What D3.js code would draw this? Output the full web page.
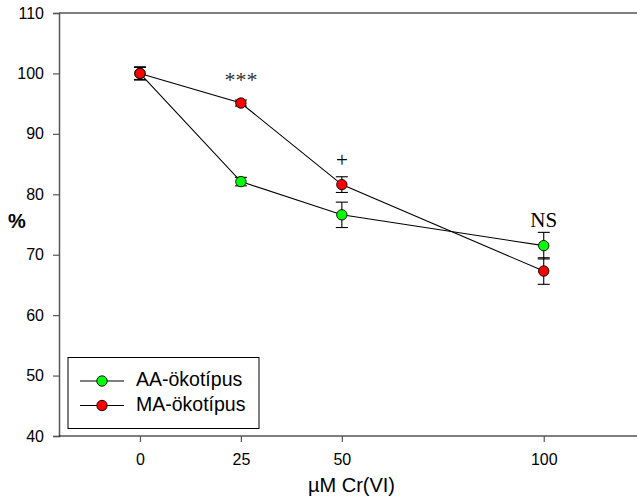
<!DOCTYPE html>
<html>
<head>
<meta charset="utf-8">
<script src="https://cdn.jsdelivr.net/npm/d3@7"></script>
<style>
  html, body { margin: 0; padding: 0; background: #fff; }
  svg { display: block; }
</style>
</head>
<body>
<svg id="chart" width="637" height="499"></svg>
<script>
// Cr(VI) concentrations (µM)
const doses = [0, 25, 50, 100];

// Relative values (%) and standard errors per ecotype
const aaValues = [100, 82.1, 76.6, 71.5];
const aaErrors = [1.0, 0.7, 2.1, 2.2];
const maValues = [100, 95.1, 81.6, 67.3];
const maErrors = [1.1, 0.5, 1.3, 2.2];

// Significance marks above each dose (baseline level in %)
const sigLabels = ["", "***", "+", "NS"];
const sigLevels = [null, 97.75, 84.5, 74.6];

const yTicks = [40, 50, 60, 70, 80, 90, 100, 110];

const seriesNames = ["AA-ökotípus", "MA-ökotípus"];
const seriesColors = ["#00ff00", "#ff0000"];

const svg = d3.select("#chart");
const margin = { left: 59, top: 13, right: 0, bottom: 63 };
const W = 637, H = 499;

const x = d3.scaleLinear().domain([-20.05, 123.1]).range([margin.left, W - margin.right]);
const y = d3.scaleLinear().domain([40, 110]).range([H - margin.bottom, margin.top]);

const fontSans = "'Liberation Sans', Arial, sans-serif";
const fontSerif = "'Liberation Serif', 'Times New Roman', serif";

// top frame line
svg.append("line")
  .attr("x1", margin.left).attr("x2", W)
  .attr("y1", y(110)).attr("y2", y(110))
  .attr("stroke", "#000").attr("stroke-width", 1.2);

// y axis
const yAxis = svg.append("g")
  .attr("transform", `translate(${margin.left},0)`)
  .call(d3.axisLeft(y).tickValues(yTicks).tickSize(6).tickPadding(9).tickFormat(d3.format("d")));
yAxis.attr("font-size", null).attr("font-family", null);
yAxis.select(".domain").attr("stroke", "#555").attr("stroke-width", 1.5);
yAxis.selectAll(".tick line").attr("stroke", "#555").attr("stroke-width", 1.2);
yAxis.selectAll("text").style("font-family", fontSans).style("font-size", "16px").attr("fill", "#000");

// x axis
const xAxis = svg.append("g")
  .attr("transform", `translate(0,${y(40)})`)
  .call(d3.axisBottom(x).tickValues(doses).tickSize(6).tickPadding(12).tickFormat(d3.format("d")));
xAxis.attr("font-size", null).attr("font-family", null);
xAxis.select(".domain").attr("stroke", "#000").attr("stroke-width", 1.2)
  .attr("d", `M${margin.left},0H${W}`);
xAxis.selectAll(".tick line").attr("stroke", "#555").attr("stroke-width", 1.2);
xAxis.selectAll("text").style("font-family", fontSans).style("font-size", "16px").attr("fill", "#000");

// axis titles
svg.append("text")
  .attr("x", 17).attr("y", 223)
  .attr("text-anchor", "middle").attr("dominant-baseline", "middle")
  .style("font-family", fontSans).style("font-size", "20px").attr("font-weight", "bold")
  .text("%");

svg.append("text")
  .attr("x", 351.5).attr("y", 487)
  .attr("text-anchor", "middle").attr("dominant-baseline", "middle")
  .style("font-family", fontSans).style("font-size", "20px")
  .text("µM Cr(VI)");

const line = d3.line().x((d, i) => x(doses[i])).y(d => y(d));

const series = [
  { values: aaValues, errors: aaErrors, color: seriesColors[0] },
  { values: maValues, errors: maErrors, color: seriesColors[1] }
];

// connecting lines
series.forEach(s => {
  svg.append("path")
    .attr("d", line(s.values))
    .attr("fill", "none").attr("stroke", "#000").attr("stroke-width", 1.1);
});

// error bars
series.forEach(s => {
  const g = svg.append("g");
  s.values.forEach((v, i) => {
    const cx = x(doses[i]);
    const lo = y(v - s.errors[i]), hi = y(v + s.errors[i]);
    g.append("line").attr("x1", cx).attr("x2", cx).attr("y1", lo).attr("y2", hi)
      .attr("stroke", "#000").attr("stroke-width", 1.1);
    [lo, hi].forEach(yy => {
      g.append("line").attr("x1", cx - 6).attr("x2", cx + 6).attr("y1", yy).attr("y2", yy)
        .attr("stroke", "#000").attr("stroke-width", 1.1);
    });
  });
});

// markers
series.forEach(s => {
  svg.append("g").selectAll("circle")
    .data(s.values)
    .join("circle")
    .attr("cx", (d, i) => x(doses[i]))
    .attr("cy", d => y(d))
    .attr("r", 5.2)
    .attr("fill", s.color)
    .attr("stroke", "#000").attr("stroke-width", 0.9);
});

// significance labels
doses.forEach((d, i) => {
  if (!sigLabels[i]) return;
  const isStar = sigLabels[i] === "***";
  svg.append("text")
    .attr("x", x(d)).attr("y", y(sigLevels[i]))
    .attr("text-anchor", "middle")
    .style("font-family", fontSerif)
    .style("font-size", isStar ? "22px" : "21px")
    .attr("fill", isStar ? "#333" : "#000")
    .text(sigLabels[i]);
});

// legend
const legend = svg.append("g");
legend.append("rect")
  .attr("x", 68).attr("y", 357.5).attr("width", 191).attr("height", 71)
  .attr("fill", "#fff").attr("stroke", "#000").attr("stroke-width", 1);
seriesNames.forEach((name, i) => {
  const ly = 381 + i * 24.5;
  legend.append("line").attr("x1", 80).attr("x2", 124).attr("y1", ly).attr("y2", ly)
    .attr("stroke", "#000").attr("stroke-width", 1.1);
  legend.append("circle").attr("cx", 102).attr("cy", ly).attr("r", 5.2)
    .attr("fill", seriesColors[i]).attr("stroke", "#000").attr("stroke-width", 0.9);
  legend.append("text").attr("x", 136).attr("y", ly)
    .attr("dominant-baseline", "middle")
    .style("font-family", fontSans).style("font-size", "19.5px")
    .text(name);
});
</script>
</body>
</html>
